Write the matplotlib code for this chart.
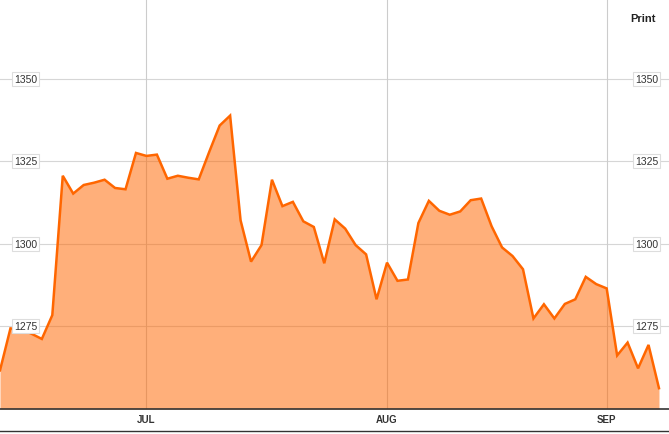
"""Daily close area chart, Jun-Sep."""
import matplotlib
matplotlib.use("Agg")
import matplotlib.pyplot as plt
from matplotlib.lines import Line2D
import numpy as np

plt.rcParams["font.family"] = ["Liberation Sans", "DejaVu Sans"]

# daily closes, one per trading day
closes = [
    1261.7, 1274.4, 1274.1, 1272.8, 1271.2, 1278.4, 1320.6, 1315.2, 1317.8, 1318.5,
    1319.4, 1316.9, 1316.5, 1327.5, 1326.6, 1327.0, 1319.7, 1320.6, 1320.0, 1319.5,
    1327.8, 1335.8, 1338.8, 1307.1, 1294.6, 1299.6, 1319.4, 1311.4, 1312.7, 1306.8,
    1305.1, 1294.1, 1307.4, 1304.6, 1299.6, 1296.8, 1283.2, 1294.3, 1288.8, 1289.2,
    1306.3, 1313.0, 1310.0, 1308.8, 1309.8, 1313.2, 1313.7, 1305.3, 1298.9, 1296.3,
    1292.3, 1277.4, 1281.7, 1277.4, 1281.8, 1283.2, 1290.0, 1287.8, 1286.5, 1266.2,
    1270.1, 1262.3, 1269.4, 1256.3,
]
month_labels = ["JUL", "AUG", "SEP"]
month_start_idx = [14, 37, 58]  # first trading day of each month
price_ticks = [1275, 1300, 1325, 1350]

LINE = "#ff6600"
W, H = 669, 435

days = np.arange(len(closes))
fig = plt.figure(figsize=(W / 100, H / 100), dpi=100)
ax = fig.add_axes([0, (H - 410) / H, 1, 410 / H])

ax.fill_between(days, closes, 1250, color=LINE, alpha=0.52, lw=0, zorder=2)
ax.plot(days, closes, color=LINE, lw=1.8, zorder=3, solid_joinstyle="miter")

ax.set_xlim(0, W / 10.46)
ax.set_ylim(1250, 1374.1)

for v in price_ticks:
    ax.axhline(v, color="#d6d6d6", lw=0.8, zorder=1)
for i in month_start_idx:
    ax.axvline(i, color="#cccccc", lw=0.8, zorder=1)

box = dict(boxstyle="square,pad=0.2", fc="white", ec="#dddddd", lw=0.8)
ytr = ax.get_yaxis_transform()
for v in price_ticks:
    for xa in (25.5 / W, 646.7 / W):
        ax.text(xa, v, str(v), transform=ytr, ha="center", va="center",
                fontsize=7.5, color="#333333", bbox=box, zorder=5)

ax.set_yticks([])
ax.set_xticks(month_start_idx)
ax.set_xticklabels(month_labels, fontsize=7, fontweight="bold", color="#333333")
ax.tick_params(axis="x", length=0, pad=3.5)

for side in ("top", "left", "right"):
    ax.spines[side].set_visible(False)
ax.spines["bottom"].set_color("#333333")
ax.spines["bottom"].set_linewidth(1.2)
ax.spines["bottom"].set_zorder(6)

fig.add_artist(Line2D([0, 1], [(H - 432) / H] * 2, color="#333333", lw=1.0))
fig.text(643 / W, 1 - 18.5 / H, "Print", ha="center", va="center",
         fontsize=8, fontweight="bold", color="#222222")

fig.savefig("out.png", dpi=100)
